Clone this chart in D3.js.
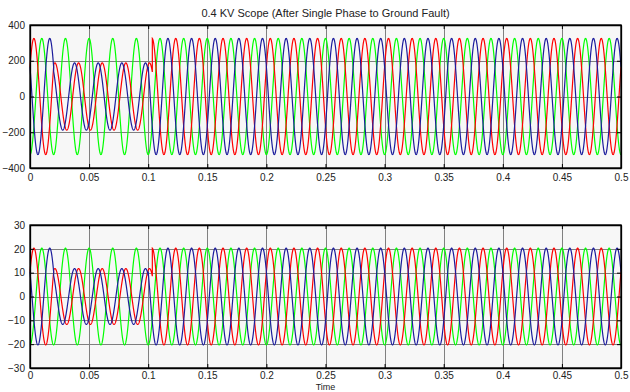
<!DOCTYPE html>
<html lang="en">
<head>
<meta charset="utf-8">
<title>0.4 KV Scope</title>
<script src="https://cdn.jsdelivr.net/npm/d3@7"></script>
<style>
  body { margin: 0; background: #fff; }
  svg text { font-family: "Liberation Sans", Arial, sans-serif; fill: #222; }
</style>
</head>
<body>
<script>
// tick labels
var timeTicks = [0, 0.05, 0.1, 0.15, 0.2, 0.25, 0.3, 0.35, 0.4, 0.45, 0.5];
var voltTicks = [-400, -200, 0, 200, 400];
var currTicks = [-30, -20, -10, 0, 10, 20, 30];

// each phase: [start, end, peak value, time of first peak]
var voltRed   = [[0, 0.02, 325, 0.0033], [0.02, 0.1035, 188, 0.0011], [0.1035, 0.5, 325, 0.0033]];
var voltGreen = [[0, 0.5, 325, 0.01]];
var voltBlue  = [[0, 0.02, 325, 0.0167], [0.02, 0.1, 188, 0.0177], [0.1, 0.5, 325, 0.0167]];

var currRed   = [[0, 0.02, 20.3, 0.0033], [0.02, 0.1035, 11.7, 0.0011], [0.1035, 0.5, 20.3, 0.0033]];
var currGreen = [[0, 0.5, 20.3, 0.01]];
var currBlue  = [[0, 0.02, 20.3, 0.0167], [0.02, 0.1, 11.7, 0.0177], [0.1, 0.5, 20.3, 0.0167]];

var freq = 50;
var colors = { red: "#ff0000", green: "#00ff00", blue: "#1c1c9c" };

var w = 630, h = 392;
var svg = d3.select("body").append("svg").attr("width", w).attr("height", h);

var x = d3.scaleLinear().domain([0, 0.5]).range([30, 621]);

function samples(segs) {
    var pts = [];
    segs.forEach(function(s) {
        for (var t = s[0]; t <= s[1] + 1e-9; t += 0.0001) {
            pts.push([t, s[2] * Math.cos(2 * Math.PI * freq * (t - s[3]))]);
        }
    });
    return pts;
}

function panel(top, bottom, domain, yTicks, series, pad) {
    var y = d3.scaleLinear().domain(domain).range([bottom, top]);
    var g = svg.append("g");

    g.append("rect")
        .attr("x", x(0)).attr("y", top)
        .attr("width", x(0.5) - x(0)).attr("height", bottom - top)
        .attr("fill", "#f7f7f7");

    // grid
    g.selectAll(".vg").data(timeTicks.slice(1, -1)).enter().append("line")
        .attr("x1", function(d) { return Math.round(x(d)) + 0.5; })
        .attr("x2", function(d) { return Math.round(x(d)) + 0.5; })
        .attr("y1", top).attr("y2", bottom)
        .attr("stroke", "#808080").attr("stroke-width", 1);
    g.selectAll(".hg").data(yTicks.slice(1, -1)).enter().append("line")
        .attr("y1", function(d) { return Math.round(y(d)) + 0.5; })
        .attr("y2", function(d) { return Math.round(y(d)) + 0.5; })
        .attr("x1", x(0)).attr("x2", x(0.5))
        .attr("stroke", "#808080").attr("stroke-width", 1);

    var line = d3.line()
        .x(function(d) { return x(d[0]); })
        .y(function(d) { return y(d[1]); });

    series.forEach(function(s) {
        g.append("path")
            .datum(samples(s.segs))
            .attr("d", line)
            .attr("fill", "none")
            .attr("stroke", s.color)
            .attr("stroke-width", 1.2);
    });

    // axes
    var xAxis = d3.axisBottom(x).tickValues(timeTicks).tickFormat(d3.format("")).tickSizeInner(-4).tickSizeOuter(0).tickPadding(pad);
    g.append("g").attr("transform", "translate(0," + bottom + ")").call(xAxis);
    var xTop = d3.axisTop(x).tickValues(timeTicks).tickFormat("").tickSizeInner(-4).tickSizeOuter(0);
    g.append("g").attr("transform", "translate(0," + top + ")").call(xTop);
    var yAxis = d3.axisLeft(y).tickValues(yTicks).tickSizeInner(-4).tickSizeOuter(0).tickPadding(5);
    g.append("g").attr("transform", "translate(" + x(0) + ",0)").call(yAxis);
    var yRight = d3.axisRight(y).tickValues(yTicks).tickFormat("").tickSizeInner(-4).tickSizeOuter(0);
    g.append("g").attr("transform", "translate(" + x(0.5) + ",0)").call(yRight);

    g.selectAll(".tick text").attr("font-size", 10).attr("fill", "#222");
    g.selectAll(".domain").attr("stroke", "#000").attr("stroke-width", 1.3);
    g.selectAll(".tick line").attr("stroke", "#000");

    g.append("rect")
        .attr("x", x(0)).attr("y", top)
        .attr("width", x(0.5) - x(0)).attr("height", bottom - top)
        .attr("fill", "none").attr("stroke", "#000").attr("stroke-width", 1.3);
}

panel(25, 168, [-400, 400], voltTicks, [
    { segs: voltGreen, color: colors.green },
    { segs: voltRed, color: colors.red },
    { segs: voltBlue, color: colors.blue }
], 6);

panel(225, 368, [-30, 30], currTicks, [
    { segs: currGreen, color: colors.green },
    { segs: currRed, color: colors.red },
    { segs: currBlue, color: colors.blue }
], 4);

svg.append("text")
    .attr("x", (x(0) + x(0.5)) / 2).attr("y", 17)
    .attr("text-anchor", "middle").attr("font-size", 11)
    .text("0.4 KV Scope (After Single Phase to Ground Fault)");

svg.append("text")
    .attr("x", (x(0) + x(0.5)) / 2).attr("y", 389.5)
    .attr("text-anchor", "middle").attr("font-size", 9)
    .text("Time");
</script>
</body>
</html>
